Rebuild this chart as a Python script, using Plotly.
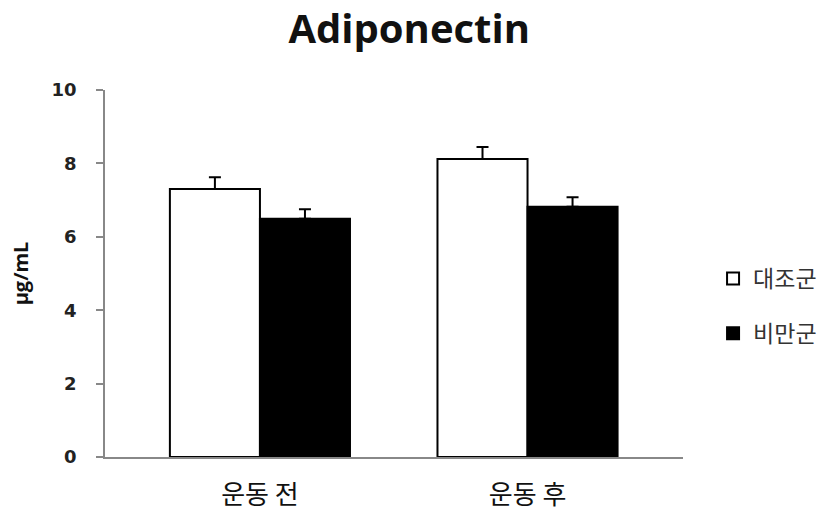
import plotly.graph_objects as go

categories = ["운동 전", "운동 후"]
series_names = ["대조군", "비만군"]
control_vals = [7.30, 8.12]
control_err = [0.32, 0.33]
obese_vals = [6.49, 6.82]
obese_err = [0.26, 0.26]
y_ticks = [0, 2, 4, 6, 8, 10]

kfont = "Noto Sans CJK KR"

fig = go.Figure()
fig.add_trace(go.Bar(
    x=categories, y=control_vals, name=series_names[0],
    marker=dict(color="white", line=dict(color="black", width=2)),
    error_y=dict(type="data", symmetric=False, array=control_err,
                 arrayminus=[0, 0], color="black", thickness=2, width=6),
    legendgroup="a",
))
fig.add_trace(go.Bar(
    x=categories, y=obese_vals, name=series_names[1],
    marker=dict(color="black", line=dict(color="black", width=2)),
    error_y=dict(type="data", symmetric=False, array=obese_err,
                 arrayminus=[0, 0], color="black", thickness=2, width=6),
    legendgroup="b",
))

fig.update_layout(
    width=830, height=516,
    margin=dict(l=105, r=147, t=90, b=59, autoexpand=False),
    paper_bgcolor="white", plot_bgcolor="white",
    barmode="group", bargap=0.327, bargroupgap=0,
    title=dict(text="<b>Adiponectin</b>", x=0.493, xanchor="center",
               y=0.944, yanchor="middle",
               font=dict(family="Open Sans", size=40, color="#111")),
    showlegend=True,
    legend=dict(x=1.052, y=0.545, xanchor="left", yanchor="top",
                font=dict(family=kfont, size=23, color="#333"),
                tracegroupgap=22, itemwidth=30,
                bgcolor="rgba(0,0,0,0)"),
    xaxis=dict(
        type="category", range=[-0.579, 1.581], automargin=False,
        showline=True, linecolor="#888", linewidth=1.5,
        ticks="", showgrid=False, zeroline=False,
        ticklabelstandoff=14,
        tickfont=dict(family=kfont, size=26, color="#111"),
    ),
    yaxis=dict(
        range=[0, 10], tickvals=y_ticks, automargin=False,
        showline=True, linecolor="#888", linewidth=1.5,
        ticks="outside", ticklen=7, tickcolor="#888", tickwidth=1.5,
        showgrid=False, zeroline=False,
        ticklabelstandoff=16,
        tickfont=dict(family="DejaVu Sans", size=18, color="#222", weight="bold"),
        title=dict(text="<b>μg/mL</b>", standoff=18,
                   font=dict(family="Open Sans", size=20, color="#111")),
    ),
)

fig.write_html("out.html", config={"displayModeBar": False},
               post_script="document.body.style.margin='0';")
